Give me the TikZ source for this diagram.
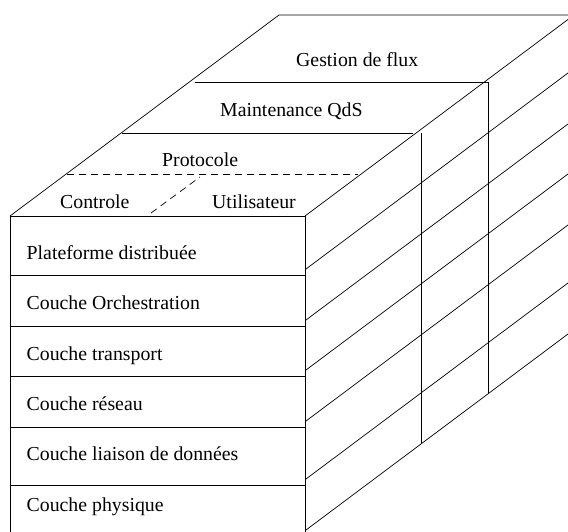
\documentclass[tikz,border=0pt]{standalone}
\usepackage{fontspec}
\setmainfont{Liberation Serif}
\begin{document}
\begin{tikzpicture}[x=1pt,y=-1pt,
  ln/.style={draw=black, line width=0.7pt},
  dline/.style={draw=black, line width=0.7pt, dash pattern=on 7pt off 5pt},
  lbl/.style={anchor=base west, inner sep=0pt, font=\fontsize{19.8}{24}\selectfont}]
\useasboundingbox (0,0) rectangle (568,531);
\clip (0,0) rectangle (568,531);
% corners
\coordinate (FTL) at (10,216);
\coordinate (FTR) at (305,216);
\coordinate (FBL) at (10,545);
\coordinate (FBR) at (305,545);
\coordinate (BTL) at (279,15);
\coordinate (BTR) at (574,15);
% front face
\path[ln] (FBL) -- (FTL) -- (FTR) -- (FBR);
\foreach \y in {275,326,376,427,485} {
  \path[ln] (10,\y) -- (305,\y);
}
% top face
\path[ln] (FTL) -- (BTL) -- (BTR);
\path[ln] (FTR) -- (BTR);
% right face diagonals
\foreach \y in {269,320,370,421,479,530} {
  \path[ln] (306,\y) -- ++(270,-202);
}
% gestion de flux plane
\coordinate (G1) at (195,82);
\coordinate (G2) at (488,82);
\coordinate (G3) at (488,393);
\path[ln] (G1) -- (G2) -- (G3);
% maintenance plane
\coordinate (M1) at (122,133);
\coordinate (M2) at (413,133);
\coordinate (M3) at (421,133);
\coordinate (M4) at (421,443);
\path[ln] (M1) -- (M2);
\path[ln] (M3) -- (M4);
% protocole dashed
\coordinate (P1) at (67,174);
\coordinate (P2) at (358,174);
\coordinate (P3) at (151,213);
\coordinate (P4) at (200,177);
\path[dline] (P1) -- (P2);
\path[dline] (P3) -- (P4);
% labels
\node[lbl] (gf) at (296,66) {Gestion de flux};
\node[lbl] (mq) at (220,116) {Maintenance QdS};
\node[lbl] (pr) at (162,166) {Protocole};
\node[lbl] (co) at (60,208) {Controle};
\node[lbl] (ut) at (212,208) {Utilisateur};
\node[lbl] (l1) at (26.5,259.5) {Plateforme distribuée};
\node[lbl] (l2) at (26.5,309.5) {Couche Orchestration};
\node[lbl] (l3) at (26.5,360.5) {Couche transport};
\node[lbl] (l4) at (26.5,410.5) {Couche réseau};
\node[lbl] (l5) at (26.5,460.5) {Couche liaison de données};
\node[lbl] (l6) at (26.5,511.5) {Couche physique};
\end{tikzpicture}
\end{document}
